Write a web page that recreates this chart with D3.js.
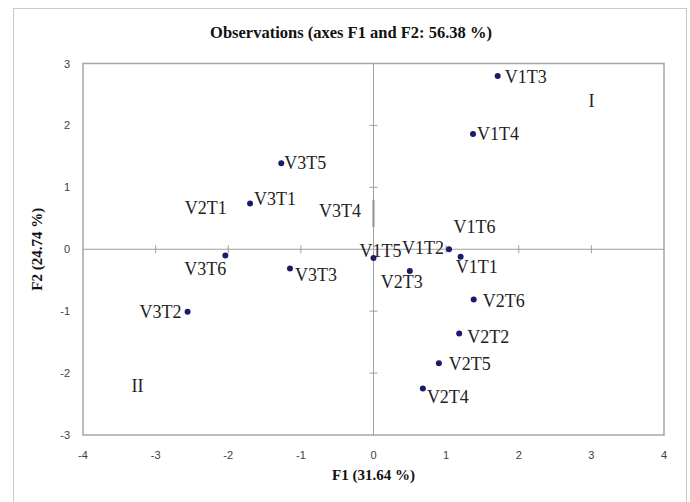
<!DOCTYPE html>
<html>
<head>
<meta charset="utf-8">
<script src="https://cdn.jsdelivr.net/npm/d3@7"></script>
<style>
  body { margin: 0; background: #fff; }
  .tick-label { font-family: "Liberation Sans", Arial, sans-serif; font-size: 11px; fill: #404040; }
  .obs-label { font-family: "Liberation Serif", "Times New Roman", serif; font-size: 18px; fill: #222; }
  .title { font-family: "Liberation Serif", "Times New Roman", serif; font-weight: bold; font-size: 15px; fill: #111; }
  .main-title { font-size: 16.5px; }
</style>
</head>
<body>
<svg id="chart" width="690" height="502"></svg>
<script>
  // observations (F1, F2)
  const names = ['V1T3', 'V1T4', 'V3T5', 'V3T1', 'V3T6', 'V3T3', 'V3T2', 'V1T5',
                 'V1T2', 'V1T1', 'V2T6', 'V2T2', 'V2T5', 'V2T4', 'V2T3'];
  const f1 = [1.71, 1.37, -1.27, -1.70, -2.04, -1.15, -2.56, 0.00,
              1.04, 1.20, 1.38, 1.18, 0.90, 0.68, 0.50];
  const f2 = [2.80, 1.86, 1.39, 0.74, -0.10, -0.31, -1.01, -0.14,
              0.00, -0.12, -0.81, -1.36, -1.84, -2.25, -0.35];

  // labels shown without a visible marker
  const hiddenNames = ['V2T1', 'V3T4', 'V1T6'];
  const hiddenF1 = [-2.31, -0.46, 1.39];
  const hiddenF2 = [0.67, 0.62, 0.36];

  const quadrants = ['I', 'II'];
  const quadF1 = [3.0, -3.25];
  const quadF2 = [2.4, -2.2];

  const xTicks = [-4, -3, -2, -1, 0, 1, 2, 3, 4];
  const yTicks = [-3, -2, -1, 0, 1, 2, 3];

  const title = 'Observations (axes F1 and F2: 56.38 %)';
  const xTitle = 'F1 (31.64 %)';
  const yTitle = 'F2 (24.74 %)';

  // label placement: [dx, dy, anchor]
  const labelPos = {
    V1T3: [7, 1, 'start'], V1T4: [4, 0, 'start'], V3T5: [3, 0, 'start'],
    V3T1: [4, -5, 'start'], V3T6: [1, 13, 'end'], V3T3: [5, 6, 'start'],
    V3T2: [-6, 0, 'end'], V1T5: [-14, -7, 'start'], V1T2: [-5, -2, 'end'],
    V1T1: [-5, 10, 'start'], V2T6: [9, 1, 'start'], V2T2: [8, 3, 'start'],
    V2T5: [10, 1, 'start'], V2T4: [4, 8, 'start'], V2T3: [-8, 11, 'middle']
  };

  const svg = d3.select('#chart');
  const plot = {left: 83, right: 664, top: 63.5, bottom: 435};

  const x = d3.scaleLinear().domain([-4, 4]).range([plot.left, plot.right]);
  const y = d3.scaleLinear().domain([-3, 3]).range([plot.bottom, plot.top]);

  // outer chart frame
  svg.append('rect')
    .attr('x', 13.5).attr('y', 8.5)
    .attr('width', 673).attr('height', 520)
    .attr('fill', 'none')
    .attr('stroke', '#c8c8c8');

  // plot area border
  svg.append('rect')
    .attr('x', plot.left).attr('y', plot.top)
    .attr('width', plot.right - plot.left).attr('height', plot.bottom - plot.top)
    .attr('fill', 'none')
    .attr('stroke', '#a6a6a6')
    .attr('stroke-width', 1.5);

  // axes through origin
  svg.append('line')
    .attr('x1', plot.left).attr('x2', plot.right)
    .attr('y1', y(0)).attr('y2', y(0))
    .attr('stroke', '#a0a0a0');
  svg.append('line')
    .attr('x1', x(0)).attr('x2', x(0))
    .attr('y1', plot.top).attr('y2', plot.bottom)
    .attr('stroke', '#a0a0a0');

  // tick marks on the origin axes
  svg.append('g').selectAll('line')
    .data(xTicks.filter(d => d !== 0 && Math.abs(d) < 4))
    .join('line')
    .attr('x1', d => x(d)).attr('x2', d => x(d))
    .attr('y1', y(0) - 4).attr('y2', y(0) + 4)
    .attr('stroke', '#a0a0a0');
  svg.append('g').selectAll('line')
    .data(yTicks.filter(d => d !== 0 && Math.abs(d) < 3))
    .join('line')
    .attr('x1', x(0) - 4).attr('x2', x(0) + 4)
    .attr('y1', d => y(d)).attr('y2', d => y(d))
    .attr('stroke', '#a0a0a0');

  // leader near V3T4
  svg.append('line')
    .attr('x1', x(0)).attr('x2', x(0))
    .attr('y1', y(0.80)).attr('y2', y(0.36))
    .attr('stroke', '#909090')
    .attr('stroke-width', 2);

  // tick labels
  svg.append('g').selectAll('text')
    .data(xTicks)
    .join('text')
    .attr('class', 'tick-label')
    .attr('x', d => x(d))
    .attr('y', 459)
    .attr('text-anchor', 'middle')
    .text(d => d);
  svg.append('g').selectAll('text')
    .data(yTicks)
    .join('text')
    .attr('class', 'tick-label')
    .attr('x', 70)
    .attr('y', d => y(d) + 4)
    .attr('text-anchor', 'end')
    .text(d => d);

  // titles
  svg.append('text')
    .attr('class', 'title main-title')
    .attr('x', 351).attr('y', 38)
    .attr('text-anchor', 'middle')
    .text(title);
  svg.append('text')
    .attr('class', 'title')
    .attr('x', x(0)).attr('y', 480)
    .attr('text-anchor', 'middle')
    .text(xTitle);
  svg.append('text')
    .attr('class', 'title')
    .attr('transform', `translate(42,${y(0)}) rotate(-90)`)
    .attr('text-anchor', 'middle')
    .text(yTitle);

  // points
  const pts = d3.zip(names, f1, f2);
  svg.append('g').selectAll('circle')
    .data(pts)
    .join('circle')
    .attr('cx', d => x(d[1]))
    .attr('cy', d => y(d[2]))
    .attr('r', 3)
    .attr('fill', '#1b1b6b');

  svg.append('g').selectAll('text')
    .data(pts)
    .join('text')
    .attr('class', 'obs-label')
    .attr('x', d => x(d[1]) + labelPos[d[0]][0])
    .attr('y', d => y(d[2]) + labelPos[d[0]][1])
    .attr('dy', '0.35em')
    .attr('text-anchor', d => labelPos[d[0]][2])
    .text(d => d[0]);

  svg.append('g').selectAll('text')
    .data(d3.zip(hiddenNames, hiddenF1, hiddenF2))
    .join('text')
    .attr('class', 'obs-label')
    .attr('x', d => x(d[1]))
    .attr('y', d => y(d[2]))
    .attr('dy', '0.35em')
    .attr('text-anchor', 'middle')
    .text(d => d[0]);

  svg.append('g').selectAll('text')
    .data(d3.zip(quadrants, quadF1, quadF2))
    .join('text')
    .attr('class', 'obs-label')
    .attr('x', d => x(d[1]))
    .attr('y', d => y(d[2]))
    .attr('dy', '0.35em')
    .attr('text-anchor', 'middle')
    .text(d => d[0]);
</script>
</body>
</html>
